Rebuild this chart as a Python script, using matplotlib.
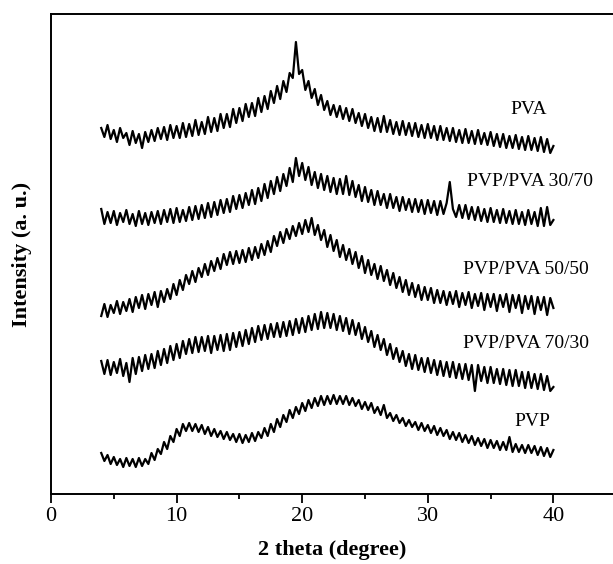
import matplotlib
matplotlib.use("Agg")
import matplotlib.pyplot as plt
import numpy as np

# XRD patterns, one value every 0.25 degree from 4 to 40
start_2theta = 4.0
step_2theta = 0.25

pva = [
    366, 357, 369, 355, 364, 352, 366, 356, 361, 349, 363, 351,
    360, 346, 362, 352, 364, 353, 366, 355, 367, 354, 369, 356,
    368, 356, 371, 357, 370, 358, 374, 359, 372, 360, 377, 362,
    376, 363, 380, 366, 380, 367, 385, 371, 386, 373, 390, 377,
    391, 378, 396, 382, 398, 385, 403, 391, 408, 395, 413, 402,
    421, 416, 452, 420, 424, 404, 413, 396, 405, 389, 399, 384,
    393, 379, 389, 377, 388, 375, 386, 373, 385, 371, 381, 368,
    380, 366, 377, 363, 376, 362, 378, 362, 374, 360, 372, 359,
    373, 359, 371, 358, 371, 357, 369, 356, 370, 356, 368, 354,
    368, 354, 366, 353, 366, 352, 364, 351, 365, 351, 363, 350,
    364, 350, 361, 349, 362, 348, 360, 347, 360, 346, 358, 346,
    359, 345, 357, 344, 358, 344, 356, 343, 357, 342, 355, 341,
    348,
]

pvp_pva_30_70 = [
    285, 270, 282, 271, 283, 269, 281, 272, 284, 270, 280, 268,
    283, 270, 281, 269, 282, 271, 283, 270, 284, 272, 285, 271,
    286, 272, 284, 273, 287, 274, 288, 275, 289, 276, 291, 277,
    292, 279, 294, 281, 295, 282, 298, 285, 299, 286, 301, 289,
    304, 290, 306, 293, 310, 296, 313, 300, 317, 303, 320, 308,
    326, 312, 336, 318, 331, 314, 327, 309, 322, 306, 320, 304,
    318, 302, 316, 300, 315, 300, 318, 299, 313, 297, 309, 293,
    307, 292, 304, 289, 303, 289, 300, 286, 300, 286, 297, 283,
    297, 284, 295, 282, 295, 282, 294, 280, 294, 281, 293, 279,
    293, 280, 291, 312, 285, 277, 289, 276, 289, 275, 287, 274,
    287, 273, 285, 272, 286, 272, 284, 271, 285, 271, 283, 270,
    284, 270, 282, 269, 284, 270, 282, 268, 286, 268, 287, 269,
    274,
]

pvp_pva_50_50 = [
    178, 190, 177, 189, 181, 193, 180, 192, 183, 195, 182, 197,
    186, 199, 185, 200, 189, 202, 187, 203, 192, 205, 195, 210,
    199, 214, 204, 219, 210, 223, 212, 226, 217, 230, 219, 233,
    223, 236, 225, 240, 229, 242, 230, 243, 231, 244, 232, 246,
    234, 247, 236, 250, 239, 253, 242, 258, 248, 262, 251, 265,
    255, 268, 258, 271, 260, 274, 262, 276, 259, 269, 254, 264,
    247, 259, 243, 254, 237, 249, 234, 245, 230, 242, 226, 238,
    221, 234, 219, 230, 215, 228, 213, 224, 209, 221, 206, 217,
    202, 214, 199, 211, 197, 209, 194, 207, 194, 206, 191, 204,
    191, 203, 189, 202, 190, 203, 187, 201, 189, 202, 186, 200,
    188, 201, 184, 200, 187, 200, 183, 199, 187, 200, 182, 199,
    186, 199, 181, 198, 185, 198, 180, 197, 184, 197, 179, 196,
    186,
]

pvp_pva_70_30 = [
    133, 120, 134, 119, 132, 121, 135, 118, 131, 112, 136, 120,
    137, 123, 139, 125, 140, 126, 143, 129, 145, 131, 148, 134,
    150, 136, 153, 140, 155, 141, 157, 142, 157, 143, 158, 141,
    158, 144, 159, 143, 160, 144, 161, 147, 162, 148, 164, 150,
    166, 152, 168, 154, 169, 155, 170, 157, 171, 157, 172, 158,
    173, 159, 175, 161, 176, 162, 178, 164, 180, 165, 182, 166,
    181, 166, 180, 164, 178, 163, 176, 160, 174, 159, 171, 155,
    167, 152, 163, 147, 159, 144, 155, 139, 150, 135, 146, 132,
    143, 128, 140, 125, 139, 124, 136, 122, 136, 121, 134, 119,
    133, 118, 132, 117, 132, 116, 130, 115, 130, 114, 129, 103,
    129, 113, 127, 111, 127, 111, 125, 110, 125, 109, 124, 108,
    124, 108, 122, 106, 122, 106, 120, 105, 120, 104, 118, 103,
    107,
]

pvp = [
    41, 33, 39, 30, 37, 29, 35, 27, 36, 28, 35, 27,
    36, 28, 35, 30, 41, 34, 45, 40, 52, 45, 58, 52,
    65, 58, 70, 63, 71, 63, 70, 62, 69, 60, 67, 58,
    65, 57, 63, 55, 62, 54, 60, 52, 60, 51, 59, 52,
    61, 53, 62, 56, 66, 58, 70, 62, 75, 67, 79, 72,
    84, 76, 87, 80, 91, 83, 94, 86, 96, 88, 98, 89,
    98, 90, 99, 90, 98, 90, 98, 89, 96, 88, 94, 85,
    92, 84, 91, 81, 87, 79, 89, 76, 81, 73, 79, 71,
    76, 68, 74, 67, 72, 64, 71, 63, 69, 61, 68, 59,
    66, 58, 64, 55, 62, 54, 61, 52, 59, 51, 58, 49,
    56, 48, 55, 46, 54, 46, 53, 44, 52, 44, 57, 42,
    50, 42, 49, 41, 49, 41, 48, 39, 47, 38, 46, 37,
    44,
]

names = ["PVA", "PVP/PVA 30/70", "PVP/PVA 50/50", "PVP/PVA 70/30", "PVP"]
label_x = [36.6, 33.1, 32.8, 32.8, 36.9]
label_y = [384, 312, 224, 151, 72]

plt.rcParams["font.family"] = ["Liberation Serif", "DejaVu Serif"]

fig = plt.figure(figsize=(6.13, 5.64), dpi=100)
ax = fig.add_axes([51 / 613, 70 / 564, 562 / 613, 480 / 564])

for series in [pva, pvp_pva_30_70, pvp_pva_50_50, pvp_pva_70_30, pvp]:
    x = start_2theta + step_2theta * np.arange(len(series))
    ax.plot(x, series, color="black", linewidth=1.6)

for name, tx, ty in zip(names, label_x, label_y):
    ax.text(tx, ty, name, fontsize=14, ha="left", va="center")

ax.set_xlim(0, 562 / 12.56)
ax.set_ylim(0, 480)
ax.set_xticks([0, 10, 20, 30, 40])
ax.set_xticks([5, 15, 25, 35], minor=True)
ax.set_yticks([])
ax.tick_params(axis="x", which="major", direction="out", length=6.5, width=1.3, labelsize=16, pad=3)
ax.tick_params(axis="x", which="minor", direction="out", length=3.5, width=1.3)
ax.spines["right"].set_visible(False)
for side in ["left", "top", "bottom"]:
    ax.spines[side].set_linewidth(1.4)

ax.set_xlabel("2 theta (degree)", fontsize=16, fontweight="bold", labelpad=10)
ax.set_ylabel("Intensity (a. u.)", fontsize=16, fontweight="bold", labelpad=14)

fig.savefig("out.png", dpi=100)
